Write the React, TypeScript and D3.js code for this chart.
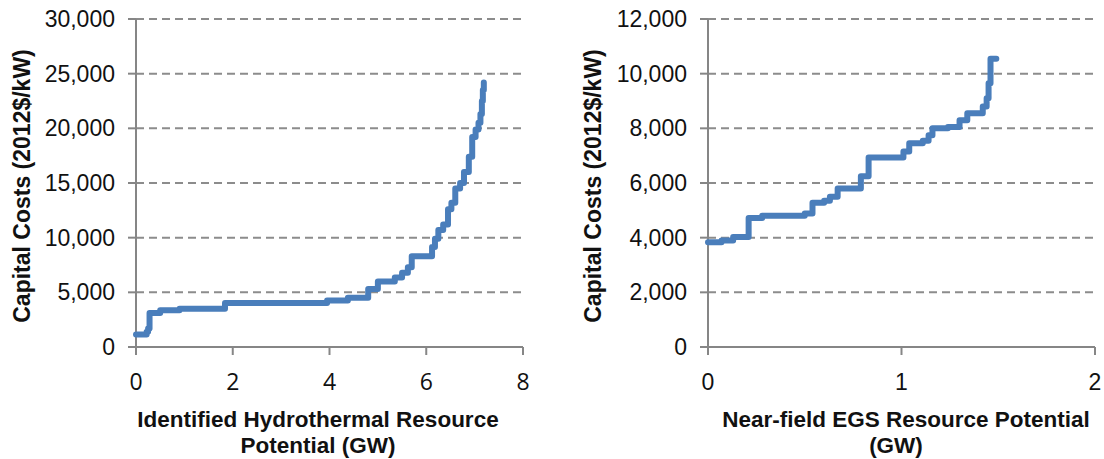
import React from "react";
import * as d3 from "d3";

// Left panel: identified hydrothermal supply curve (step starts: GW, 2012$/kW)
const hydroGW = [0.0, 0.22, 0.25, 0.28, 0.5, 0.9, 1.84, 3.95, 4.38, 4.8, 5.0, 5.35, 5.5, 5.62, 5.7, 6.12, 6.18, 6.25, 6.35, 6.45, 6.52, 6.6, 6.7, 6.78, 6.88, 6.95, 7.02, 7.08, 7.12, 7.15, 7.17, 7.19];
const hydroCost = [1150, 1400, 1700, 3100, 3350, 3500, 4020, 4250, 4500, 5300, 6000, 6350, 6800, 7300, 8300, 9150, 9900, 10700, 11200, 12600, 13200, 14500, 15000, 16000, 17400, 19200, 19900, 20500, 21300, 22500, 23500, 24200];
const hydroYTicks = [0, 5000, 10000, 15000, 20000, 25000, 30000];
const hydroXTicks = [0, 2, 4, 6, 8];

// Right panel: near-field EGS supply curve
const egsGW = [0.0, 0.07, 0.13, 0.21, 0.28, 0.5, 0.54, 0.6, 0.63, 0.67, 0.79, 0.83, 1.01, 1.04, 1.11, 1.14, 1.16, 1.24, 1.3, 1.34, 1.42, 1.44, 1.45, 1.46, 1.49];
const egsCost = [3830, 3900, 4020, 4720, 4800, 4880, 5280, 5350, 5500, 5800, 6250, 6930, 7150, 7450, 7550, 7750, 8000, 8050, 8300, 8550, 8800, 9100, 9650, 10550, 10550];
const egsYTicks = [0, 2000, 4000, 6000, 8000, 10000, 12000];
const egsXTicks = [0, 1, 2];

const yTitle = "Capital Costs (2012$/kW)";
const hydroXTitle = ["Identified Hydrothermal Resource", "Potential (GW)"];
const egsXTitle = ["Near-field EGS Resource Potential", "(GW)"];

const LINE = "#4a7ebb";
const AXIS = "#868686";
const GRID = "#8c8c8c";
const fmt = d3.format(",");

type PanelProps = {
  x0: number; x1: number; xMax: number; yMax: number;
  gw: number[]; cost: number[]; yTicks: number[]; xTicks: number[];
  xTitle: string[]; xTitleCenters: number[]; xTickFont: string;
  yTitleX: number;
};

function Panel(p: PanelProps) {
  const yTop = 19, yBot = 347;
  const x = d3.scaleLinear().domain([0, p.xMax]).range([p.x0, p.x1]);
  const y = d3.scaleLinear().domain([0, p.yMax]).range([yBot, yTop]);
  const pts: [number, number][] = p.gw.map((g, i) => [g, p.cost[i]]);
  const line = d3.line<[number, number]>().x(d => x(d[0])).y(d => y(d[1])).curve(d3.curveStepAfter);
  return (
    <g>
      {p.yTicks.filter(t => t > 0).map(t => (
        <line key={"g" + t} x1={p.x0} x2={p.x1} y1={y(t)} y2={y(t)} stroke={GRID} strokeWidth={2} strokeDasharray="8,5" />
      ))}
      <line x1={p.x0} x2={p.x0} y1={yTop} y2={yBot} stroke={AXIS} strokeWidth={2} />
      <line x1={p.x0} x2={p.x1} y1={yBot} y2={yBot} stroke={AXIS} strokeWidth={2} />
      {p.yTicks.map(t => (
        <g key={"y" + t}>
          <line x1={p.x0 - 8} x2={p.x0} y1={y(t)} y2={y(t)} stroke={AXIS} strokeWidth={2} />
          <text x={p.x0 - 21} y={y(t)} dy="0.35em" textAnchor="end" fontFamily="Liberation Sans, Arial" fontSize={23} fill="#111">{fmt(t)}</text>
        </g>
      ))}
      {p.xTicks.map(t => (
        <g key={"x" + t}>
          <line x1={x(t)} x2={x(t)} y1={yBot} y2={yBot + 8} stroke={AXIS} strokeWidth={2} />
          <text x={x(t)} y={yBot + 43} textAnchor="middle" fontFamily={p.xTickFont} fontSize={23} fill="#111">{t}</text>
        </g>
      ))}
      <path d={line(pts) || ""} fill="none" stroke={LINE} strokeWidth={6} strokeLinecap="round" strokeLinejoin="round" />
      <text transform={`translate(${p.yTitleX},186) rotate(-90)`} textAnchor="middle" fontFamily="Liberation Sans, Arial" fontWeight="bold" fontSize={23} fill="#111">{yTitle}</text>
      {p.xTitle.map((s, i) => (
        <text key={s} x={p.xTitleCenters[i]} y={427 + i * 26} textAnchor="middle" fontFamily="Liberation Sans, Arial" fontWeight="bold" fontSize={22.5} fill="#111">{s}</text>
      ))}
    </g>
  );
}

export default function App() {
  return (
    <svg width={1104} height={459} style={{ position: "absolute", left: 0, top: 0, background: "#fff" }}>
      <Panel x0={136} x1={523} xMax={8} yMax={30000} gw={hydroGW} cost={hydroCost}
        yTicks={hydroYTicks} xTicks={hydroXTicks} xTitle={hydroXTitle} xTitleCenters={[318, 318]}
        xTickFont="Open Sans, sans-serif" yTitleX={30} />
      <Panel x0={708} x1={1095} xMax={2} yMax={12000} gw={egsGW} cost={egsCost}
        yTicks={egsYTicks} xTicks={egsXTicks} xTitle={egsXTitle} xTitleCenters={[906, 896]}
        xTickFont="Liberation Sans, Arial" yTitleX={601} />
    </svg>
  );
}
